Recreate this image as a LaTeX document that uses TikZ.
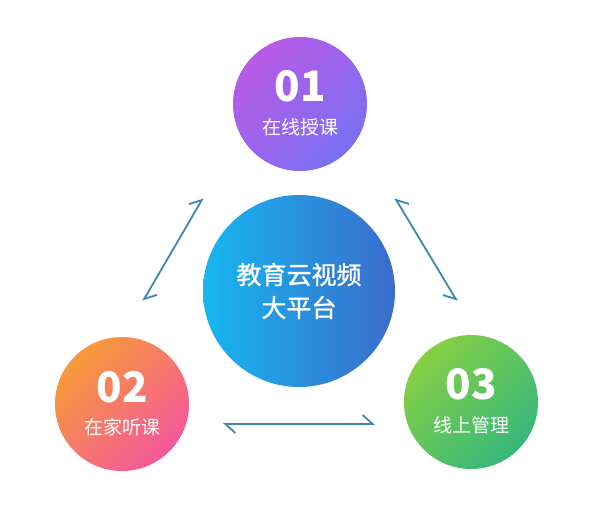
\documentclass[tikz,border=0pt]{standalone}
\usepackage{fontspec}
\newfontfamily\cjk{Noto Sans CJK SC}
\newfontfamily\cjkmid{Noto Sans CJK SC}[FakeBold=1.2]
\usetikzlibrary{arrows.meta,positioning}

\definecolor{topA}{HTML}{B85AE6}
\definecolor{topB}{HTML}{7A70F2}
\definecolor{hubA}{HTML}{17B6F0}
\definecolor{hubB}{HTML}{3A6CCC}
\definecolor{homeA}{HTML}{F79A38}
\definecolor{homeB}{HTML}{F4589C}
\definecolor{mgmtA}{HTML}{86CF45}
\definecolor{mgmtB}{HTML}{35B87A}
\definecolor{arrcol}{HTML}{3F86B0}

\begin{document}
\begin{tikzpicture}[
        x=1pt, y=1pt,
        disc/.style={circle, inner sep=0pt, minimum size=134pt},
        num/.style={text=white, font=\cjk\bfseries\fontsize{42}{42}\selectfont},
        lbl/.style={text=white, font=\cjk\fontsize{19}{19}\selectfont},
        harp/.style={{Straight Barb[harpoon, length=10pt, width=18pt]}-{Straight Barb[harpoon, length=10pt, width=18pt]}, line width=1.8pt, arrcol},
        harpr/.style={{Straight Barb[harpoon, swap, length=10pt, width=18pt]}-{Straight Barb[harpoon, swap, length=10pt, width=18pt]}, line width=1.8pt, arrcol},
      ]
      \useasboundingbox[fill=white] (0,0) rectangle (600,517);

      \node[disc, minimum size=192pt, top color=hubA, bottom color=hubB, shading angle=90] (hub) at (299,226) {};
      \node[text=white, align=center, font=\cjkmid\fontsize{25}{33}\selectfont] (hubtxt) at (hub.center) {教育云视频\\大平台};

      \node[disc, top color=topA, bottom color=topB, shading angle=45] (online) at (300,413) {};
      \node[num] (n1) at ([yshift=18pt]online.center) {01};
      \node[lbl] (t1) at ([yshift=-23pt]online.center) {在线授课};

      \node[disc, top color=homeA, bottom color=homeB, shading angle=45] (home) at (122,113) {};
      \node[num] (n2) at ([yshift=17pt]home.center) {02};
      \node[lbl] (t2) at ([yshift=-23pt]home.center) {在家听课};

      \node[disc, top color=mgmtA, bottom color=mgmtB, shading angle=45] (mgmt) at (471,115) {};
      \node[num] (n3) at ([yshift=18pt]mgmt.center) {03};
      \node[lbl] (t3) at ([yshift=-23pt]mgmt.center) {线上管理};

      % arrow ends
      \coordinate (la) at (143,216);
      \coordinate (lb) at (203,319);
      \coordinate (ra) at (395,319);
      \coordinate (rb) at (457,216);
      \coordinate (ba) at (223,93);
      \coordinate (bb) at (375,93);

      \draw[harp] (la) -- (lb);
      \draw[harpr] (ra) -- (rb);
      \draw[harp] (bb) -- (ba);

    \end{tikzpicture}
\end{document}
